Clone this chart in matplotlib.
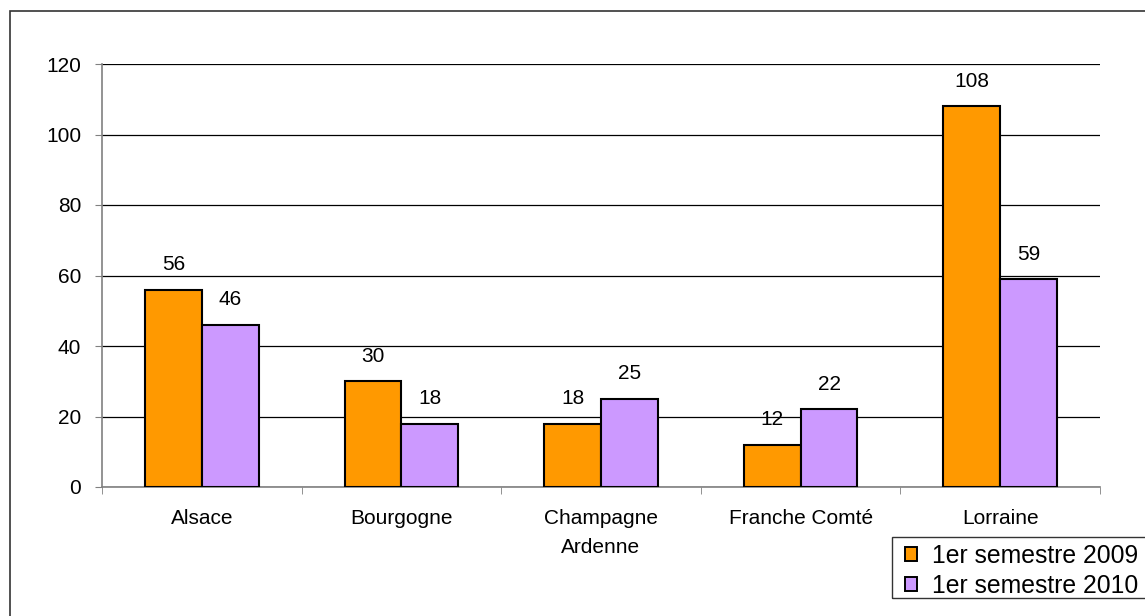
import matplotlib

matplotlib.use("Agg")
import matplotlib.pyplot as plt
import numpy as np
from matplotlib.patches import Rectangle

regions = ["Alsace", "Bourgogne", "Champagne\nArdenne", "Franche Comté", "Lorraine"]
s2009 = [56, 30, 18, 12, 108]
s2010 = [46, 18, 25, 22, 59]
labels = ["1er semestre 2009", "1er semestre 2010"]
yticks = [0, 20, 40, 60, 80, 100, 120]

plt.rcParams["font.family"] = ["Liberation Sans", "DejaVu Sans"]
FS = 15

W, H = 1145, 616
fig = plt.figure(figsize=(W / 100, H / 100), dpi=100)
# outer chart frame (right and bottom edges fall outside the image)
fig.patches.append(Rectangle((10 / W, -0.1), 1.2, 1 - 11 / H + 0.1, transform=fig.transFigure,
                             fill=False, edgecolor="#333333", lw=1.2))
# legend frame
fig.patches.append(Rectangle((892 / W, 1 - 598 / H), 1.0, (598 - 537) / H, transform=fig.transFigure,
                             fill=False, edgecolor="#333333", lw=1.0, zorder=5))
ax = fig.add_axes([102 / W, 1 - 487 / H, (1100 - 102) / W, (487 - 64) / H])

x = np.arange(len(regions))
w = 0.285
b1 = ax.bar(x - w / 2, s2009, w, color="#FF9900", edgecolor="black", lw=1.5, label=labels[0], zorder=3)
b2 = ax.bar(x + w / 2, s2010, w, color="#CC99FF", edgecolor="black", lw=1.5, label=labels[1], zorder=3)
for bars, vals in ((b1, s2009), (b2, s2010)):
    for b, v in zip(bars, vals):
        ax.annotate(f"{v}", (b.get_x() + b.get_width() / 2, v), xytext=(0, 14), textcoords="offset points",
                    ha="center", va="baseline", fontsize=FS)

ax.set_xlim(-0.5, len(regions) - 0.5)
ax.set_ylim(0, 120)
ax.set_yticks(yticks)
ax.set_yticklabels([str(t) for t in yticks], fontsize=FS)
ax.set_xticks(x)
ax.set_xticklabels(regions, fontsize=FS, linespacing=1.65, va="top")
ax.set_xticks(np.arange(len(regions) + 1) - 0.5, minor=True)
ax.tick_params(axis="x", which="major", length=0, pad=16)
ax.tick_params(axis="x", which="minor", length=5, color="#808080", direction="out")
ax.tick_params(axis="y", length=5, color="#808080", direction="out", pad=10)
ax.grid(axis="y", color="black", lw=0.9, zorder=0)
for side in ("top", "right"):
    ax.spines[side].set_visible(False)
for side in ("left", "bottom"):
    ax.spines[side].set_color("#808080")
    ax.spines[side].set_linewidth(1.2)

leg = fig.legend(loc="upper left", bbox_to_anchor=(905 / W, 1 - 544 / H), fontsize=17.8,
                 frameon=False, borderpad=0, handlelength=0.49, handleheight=0.49,
                 handletextpad=0.6, labelspacing=0.24, borderaxespad=0)
for h in leg.legend_handles:
    h.set_linewidth(1.4)

fig.savefig("out.png", dpi=100)
